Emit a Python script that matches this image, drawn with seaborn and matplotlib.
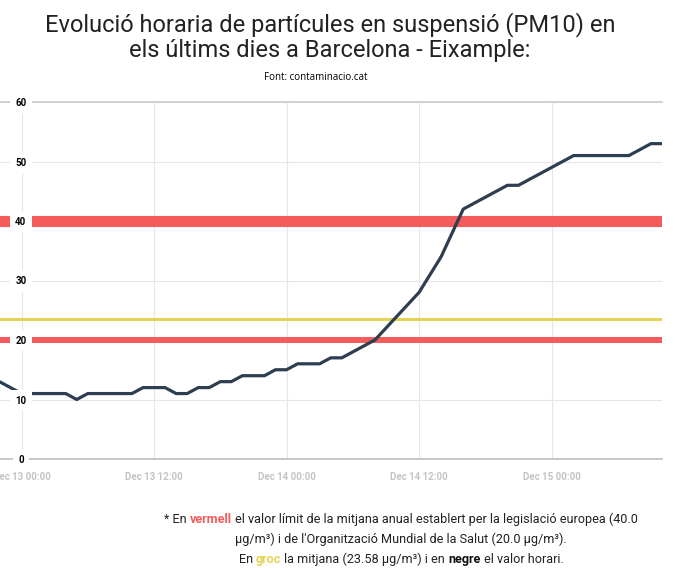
import pandas as pd
import numpy as np
import seaborn as sns
import matplotlib.pyplot as plt
import matplotlib.dates as mdates

# hourly PM10 values, starting Dec 12 22:00
start = "2023-12-12 22:00"
pm10 = [13, 12, 11, 11, 11, 11, 11, 10, 11, 11, 11, 11, 11, 12, 12, 12,
        11, 11, 12, 12, 13, 13, 14, 14, 14, 15, 15, 16, 16, 16, 17, 17,
        18, 19, 20, 22, 24, 26, 28, 31, 34, 38, 42, 43, 44, 45, 46, 46,
        47, 48, 49, 50, 51, 51, 51, 51, 51, 51, 52, 53, 53]
eu_limit = 40.0
who_limit = 20.0
mean_value = 23.58
y_ticks = [0, 10, 20, 30, 40, 50, 60]

title_lines = ["Evolució horaria de partícules en suspensió (PM10) en",
               "els últims dies a Barcelona - Eixample:"]
source = "Font: contaminacio.cat"

df = pd.DataFrame({"time": pd.date_range(start, periods=len(pm10), freq="h"),
                   "pm10": pm10})

sns.set_theme(style="white")
plt.rcParams['font.family'] = ['Roboto', 'DejaVu Sans']

W, H = 675, 568
fig = plt.figure(figsize=(W / 100, H / 100), dpi=100)
ax = fig.add_axes([0, 109 / H, 662 / W, 357 / H])

# grid drawn under everything
ax.set_axisbelow(True)
ax.grid(True, color="#e6e6e6", linewidth=0.8)

ax.axhline(eu_limit, color="#f45b5b", linewidth=8, zorder=2)
ax.axhline(who_limit, color="#f45b5b", linewidth=4.3, zorder=2)
ax.axhline(mean_value, color="#e4d354", linewidth=2.2, zorder=2)
sns.lineplot(data=df, x="time", y="pm10", ax=ax, color="#2c3e50",
             linewidth=2.3, zorder=3)

t0 = pd.Timestamp("2023-12-13 00:00")
ax.set_xlim(t0 - pd.Timedelta(hours=1.95), t0 + pd.Timedelta(hours=58))
ax.set_ylim(0, 60)
ax.xaxis.set_major_locator(mdates.HourLocator(byhour=[0, 12]))
ax.xaxis.set_major_formatter(mdates.DateFormatter("%b %d %H:%M"))
ax.set_yticks(y_ticks)
ax.set_yticklabels([])
ax.set_xlabel("")
ax.set_ylabel("")
ax.tick_params(axis="x", length=0, pad=9, labelsize=7, labelcolor="#c4c4c4")
ax.tick_params(axis="y", length=0)
for lbl in ax.get_xticklabels():
    lbl.set_fontweight("bold")
for side in ["left", "right"]:
    ax.spines[side].set_visible(False)
ax.spines["bottom"].set_color("#c0c0c0")
ax.spines["top"].set_color("#cccccc")

# overlay axes so the y labels sit on top of the lines
ax2 = fig.add_axes(ax.get_position(), sharey=ax, frameon=False)
ax2.patch.set_visible(False)
ax2.set_xticks([])
ax2.grid(False)
ax2.set_yticks(y_ticks)
ax2.set_yticklabels([str(v) for v in y_ticks])
ax2.tick_params(axis="y", length=0, pad=-15, labelsize=7, labelcolor="black")
for lbl in ax2.get_yticklabels():
    lbl.set_fontweight("bold")
    lbl.set_horizontalalignment("center")
    lbl.set_bbox(dict(facecolor="white", edgecolor="none", boxstyle="square,pad=0.55"))

fig.text(330 / W, 1 - 31 / H, title_lines[0], ha="center", va="baseline",
         fontsize=17, color="#222222")
fig.text(330 / W, 1 - 57 / H, title_lines[1], ha="center", va="baseline",
         fontsize=17, color="#222222")
fig.text(316 / W, 1 - 80 / H, source, ha="center", va="baseline",
         fontsize=7, color="black", family=["Open Sans", "DejaVu Sans"])

# footnote with coloured words
note_lines = [
    [("* En", "#222222", "normal"), ("vermell", "#f45b5b", "bold"),
     ("el valor límit de la mitjana anual establert per la legislació europea (40.0", "#222222", "normal")],
    [("μg/m³) i de l'Organització Mundial de la Salut (20.0 μg/m³).", "#222222", "normal")],
    [("En", "#222222", "normal"), ("groc", "#e4d354", "bold"),
     ("la mitjana (23.58 μg/m³) i en", "#222222", "normal"), ("negre", "#111111", "bold"),
     ("el valor horari.", "#222222", "normal")],
]
note_baselines = [523, 543, 563]
note_size = 9.1

renderer = fig.canvas.get_renderer()
probe1 = fig.text(0, 0, "a a", fontsize=note_size)
probe2 = fig.text(0, 0, "aa", fontsize=note_size)
space_w = probe1.get_window_extent(renderer).width - probe2.get_window_extent(renderer).width
probe1.remove()
probe2.remove()

for parts, yb in zip(note_lines, note_baselines):
    texts = []
    for s, c, w in parts:
        texts.append(fig.text(0, 1 - yb / H, s, color=c, fontweight=w,
                              fontsize=note_size, ha="left", va="baseline"))
    widths = [t.get_window_extent(renderer).width for t in texts]
    total = sum(widths) + space_w * (len(texts) - 1)
    x = 401 - total / 2
    for t, w in zip(texts, widths):
        t.set_x(x / W)
        x += w + space_w

fig.savefig("out.png", dpi=100)
